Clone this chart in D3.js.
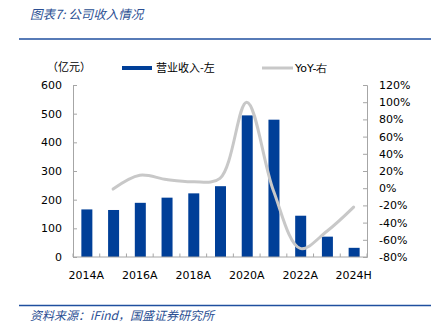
<!DOCTYPE html>
<html><head><meta charset="utf-8">
<script src="https://cdn.jsdelivr.net/npm/d3@7"></script>
<style>
body{margin:0;background:#fff;}
svg{display:block;}
</style></head>
<body>
<svg id="c" width="431" height="333"></svg>
<script>
const categories = ["2014A","2015A","2016A","2017A","2018A","2019A","2020A","2021A","2022A","2023A","2024H"];
const revenue = [166,164,189,207,222,247,494,479,144,71,32];
const yoy = [null,-1,15,10,7.5,11.5,100,-3,-70,-50,-22];
const leftTicks = [0,100,200,300,400,500,600];
const rightTicks = [-80,-60,-40,-20,0,20,40,60,80,100,120];
const xLabels = ["2014A","2016A","2018A","2020A","2022A","2024H"];

const svg = d3.select("#c");
const cjk = "'Noto Sans CJK SC', sans-serif";
const num = "'DejaVu Sans', sans-serif";
const blueText = "#2b4f93";

// header & footer
svg.append("text").attr("x",30).attr("y",19).text("图表7: 公司收入情况")
  .attr("font-family",cjk).attr("font-size",12.5).attr("font-style","italic").attr("fill",blueText);
svg.append("line").attr("x1",19).attr("x2",431).attr("y1",39).attr("y2",39)
  .attr("stroke","#1f4f9f").attr("stroke-width",1.5);
svg.append("line").attr("x1",19).attr("x2",431).attr("y1",305.5).attr("y2",305.5)
  .attr("stroke","#1f4f9f").attr("stroke-width",1.5);
svg.append("text").attr("x",30).attr("y",320).text("资料来源：iFind，国盛证券研究所")
  .attr("font-family",cjk).attr("font-size",12).attr("font-style","italic").attr("fill",blueText);

const L = 73, R = 367, T = 85, B = 257;
const x = d3.scaleBand().domain(categories).range([L,R]).paddingInner(0).paddingOuter(0);
const yL = d3.scaleLinear().domain([0,600]).range([B,T]);
const yR = d3.scaleLinear().domain([-80,120]).range([B,T]);

const axisColor = "#a6a6a6";
// left axis
const gl = svg.append("g").attr("transform",`translate(${L},0)`)
  .call(d3.axisRight(yL).tickValues(leftTicks).tickSize(4).tickFormat(""));
gl.select(".domain").attr("stroke",axisColor);
gl.selectAll(".tick line").attr("stroke",axisColor);
svg.append("g").selectAll("text").data(leftTicks).join("text")
  .attr("x",62).attr("y",d=>yL(d)).attr("dy","0.36em").attr("text-anchor","end")
  .attr("font-family",num).attr("font-size",11).attr("fill","#000").text(d=>d);

// right axis
const gr = svg.append("g").attr("transform",`translate(${R},0)`)
  .call(d3.axisLeft(yR).tickValues(rightTicks).tickSize(4).tickFormat(""));
gr.select(".domain").attr("stroke",axisColor);
gr.selectAll(".tick line").attr("stroke",axisColor);
svg.append("g").selectAll("text").data(rightTicks).join("text")
  .attr("x",379).attr("y",d=>yR(d)).attr("dy","0.36em").attr("text-anchor","start")
  .attr("font-family",num).attr("font-size",11).attr("fill","#000").text(d=>d+"%");

// bars
const bw = 11;
svg.append("g").selectAll("rect").data(categories).join("rect")
  .attr("x",(d)=>x(d)+x.bandwidth()/2-bw/2+0.5)
  .attr("width",bw)
  .attr("y",(d,i)=>yL(revenue[i]))
  .attr("height",(d,i)=>yL(0)-yL(revenue[i]))
  .attr("fill","#003f98");

// bottom axis
const bounds = categories.map(c=>x(c)).concat([R]);
const gb = svg.append("g");
gb.append("line").attr("x1",L).attr("x2",R).attr("y1",B).attr("y2",B).attr("stroke",axisColor);
gb.selectAll(".bt").data(bounds).join("line").attr("class","bt")
  .attr("x1",d=>d).attr("x2",d=>d).attr("y1",B).attr("y2",B-3.5).attr("stroke",axisColor);
svg.append("g").selectAll("text").data(xLabels).join("text")
  .attr("x",d=>x(d)+x.bandwidth()/2).attr("y",275).attr("dy","0.36em").attr("text-anchor","middle")
  .attr("font-family",num).attr("font-size",11).attr("fill","#000").text(d=>d);

// yoy line
const pts = categories.map((c,i)=>[x(c)+x.bandwidth()/2, yoy[i]]).filter(p=>p[1]!==null);
const line = d3.line().x(p=>p[0]).y(p=>yR(p[1])).curve(d3.curveCatmullRom.alpha(0.5));
svg.append("path").attr("d",line(pts)).attr("fill","none").attr("stroke","#c8c8c8")
  .attr("stroke-width",3).attr("stroke-linecap","round");

// unit label
svg.append("text").attr("x",69).attr("y",67).attr("dy","0.36em").attr("text-anchor","middle")
  .attr("font-family",cjk).attr("font-size",11).attr("fill","#000").text("（亿元）");

// legend
svg.append("rect").attr("x",122).attr("y",66).attr("width",30).attr("height",4).attr("fill","#003f98");
svg.append("text").attr("x",156).attr("y",68).attr("dy","0.36em")
  .attr("font-family",cjk).attr("font-size",11).attr("fill","#000").text("营业收入-左");
svg.append("line").attr("x1",262).attr("x2",293).attr("y1",68).attr("y2",68)
  .attr("stroke","#c8c8c8").attr("stroke-width",3);
svg.append("text").attr("x",295).attr("y",68).attr("dy","0.36em")
  .attr("font-family",num).attr("font-size",11).attr("fill","#000").text("YoY-右");
</script>
</body></html>
